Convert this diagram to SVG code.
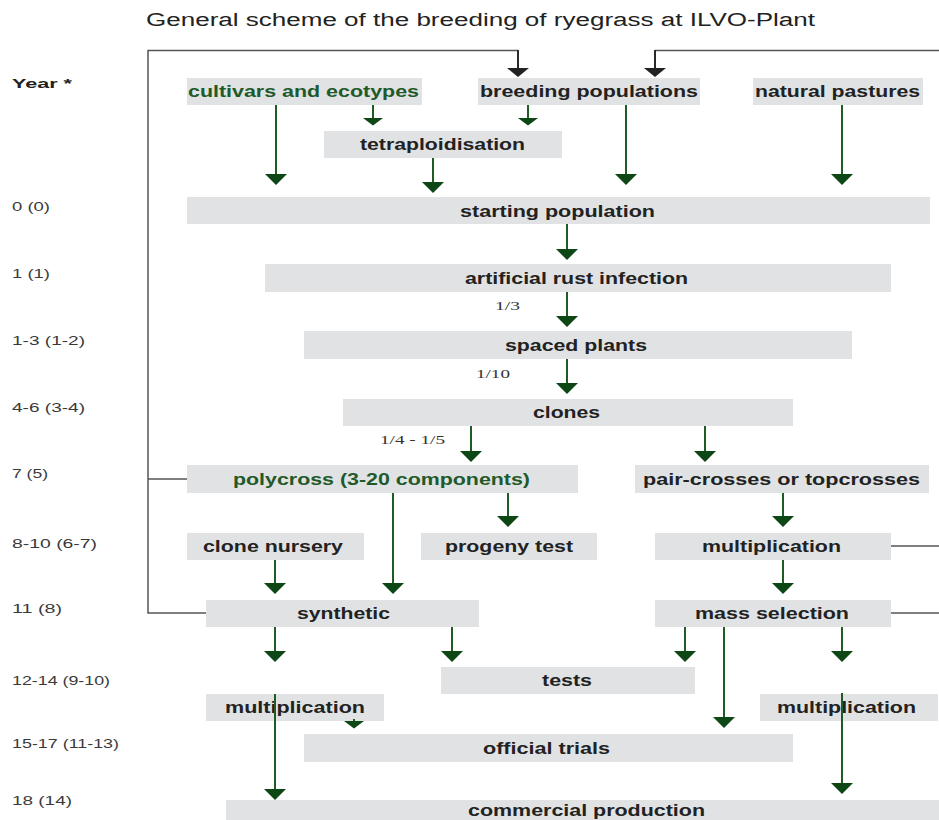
<svg xmlns="http://www.w3.org/2000/svg" width="939" height="820" viewBox="0 0 939 820">
<style>
.box{fill:#e1e2e4}
.lbl{font-family:"Liberation Sans",Arial,sans-serif;font-weight:bold;font-size:16px;fill:#222;text-anchor:middle}
.grn{fill:#1f5a2a}
.yr{font-family:"Liberation Sans",Arial,sans-serif;font-size:13px;fill:#3a3a3a}
.frac{font-family:"Liberation Serif","Times New Roman",serif;font-size:13px;fill:#333}
.title{font-family:"Liberation Sans",Arial,sans-serif;font-size:18px;fill:#222}
.ga{fill:none;stroke:#1f5c24;stroke-width:2;marker-end:url(#hg)}
.gs{fill:none;stroke:#1f5c24;stroke-width:2;marker-end:url(#hs)}
.ba{fill:none;stroke:#2a2a2a;stroke-width:2;marker-end:url(#hb)}
.fb{fill:none;stroke:#555;stroke-width:1.5}
</style>
<defs>
<marker id="hg" markerUnits="userSpaceOnUse" orient="auto" refX="0" refY="0" markerWidth="12" markerHeight="24" viewBox="0 -12 12 24" overflow="visible"><path d="M0,-11 L11,0 L0,11 Z" fill="#0d4715"/></marker>
<marker id="hs" markerUnits="userSpaceOnUse" orient="auto" refX="0" refY="0" markerWidth="9" markerHeight="22" viewBox="0 -11 9 22" overflow="visible"><path d="M0,-10 L7.5,0 L0,10 Z" fill="#0d4715"/></marker>
<marker id="hb" markerUnits="userSpaceOnUse" orient="auto" refX="0" refY="0" markerWidth="10" markerHeight="24" viewBox="0 -12 10 24" overflow="visible"><path d="M0,-11 L9,0 L0,11 Z" fill="#222"/></marker>
</defs>
<rect width="939" height="820" fill="#fff"/>
<text class="title" x="146" y="26" textLength="669" lengthAdjust="spacingAndGlyphs">General scheme of the breeding of ryegrass at ILVO-Plant</text>

<g id="years">
<text class="yr" x="12" y="88" textLength="60" lengthAdjust="spacingAndGlyphs" style="font-weight:bold;fill:#222">Year *</text>
<text class="yr" x="12" y="211" textLength="38" lengthAdjust="spacingAndGlyphs">0 (0)</text>
<text class="yr" x="12" y="278" textLength="38" lengthAdjust="spacingAndGlyphs">1 (1)</text>
<text class="yr" x="12" y="345" textLength="73" lengthAdjust="spacingAndGlyphs">1-3 (1-2)</text>
<text class="yr" x="12" y="412" textLength="73" lengthAdjust="spacingAndGlyphs">4-6 (3-4)</text>
<text class="yr" x="12" y="478" textLength="36" lengthAdjust="spacingAndGlyphs">7 (5)</text>
<text class="yr" x="12" y="548" textLength="85" lengthAdjust="spacingAndGlyphs">8-10 (6-7)</text>
<text class="yr" x="12" y="613" textLength="50" lengthAdjust="spacingAndGlyphs">11 (8)</text>
<text class="yr" x="12" y="685" textLength="98" lengthAdjust="spacingAndGlyphs">12-14 (9-10)</text>
<text class="yr" x="12" y="748" textLength="107" lengthAdjust="spacingAndGlyphs">15-17 (11-13)</text>
<text class="yr" x="12" y="805" textLength="60" lengthAdjust="spacingAndGlyphs">18 (14)</text>
</g>

<g id="feedback">
<path class="fb" d="M206,613 H148 V50.5 H518"/>
<path class="fb" d="M187,479 H148"/>
<path class="fb" d="M939,50.5 H655"/>
<path class="fb" d="M890,546 H939"/>
<path class="fb" d="M890,613 H939"/>
</g>

<g id="n-cultivars"><rect class="box" x="187" y="78" width="235" height="27"/><text class="lbl grn" x="303.5" y="97" textLength="231" lengthAdjust="spacingAndGlyphs">cultivars and ecotypes</text></g>
<g id="n-breeding"><rect class="box" x="478" y="78" width="222" height="27"/><text class="lbl" x="589" y="97" textLength="218" lengthAdjust="spacingAndGlyphs">breeding populations</text></g>
<g id="n-natural"><rect class="box" x="753" y="78" width="170" height="27"/><text class="lbl" x="837.5" y="97" textLength="165" lengthAdjust="spacingAndGlyphs">natural pastures</text></g>
<g id="n-tetra"><rect class="box" x="324" y="131" width="238" height="27"/><text class="lbl" x="442.5" y="150" textLength="165" lengthAdjust="spacingAndGlyphs">tetraploidisation</text></g>
<g id="n-starting"><rect class="box" x="187" y="197" width="743" height="27"/><text class="lbl" x="557.5" y="217" textLength="195" lengthAdjust="spacingAndGlyphs">starting population</text></g>
<g id="n-rust"><rect class="box" x="265" y="264" width="626" height="28"/><text class="lbl" x="576.5" y="284" textLength="223" lengthAdjust="spacingAndGlyphs">artificial rust infection</text></g>
<g id="n-spaced"><rect class="box" x="304" y="331" width="548" height="28"/><text class="lbl" x="576" y="351" textLength="142" lengthAdjust="spacingAndGlyphs">spaced plants</text></g>
<g id="n-clones"><rect class="box" x="343" y="399" width="450" height="27"/><text class="lbl" x="566.5" y="418" textLength="67" lengthAdjust="spacingAndGlyphs">clones</text></g>
<g id="n-polycross"><rect class="box" x="187" y="465" width="391" height="28"/><text class="lbl grn" x="381.5" y="485" textLength="297" lengthAdjust="spacingAndGlyphs">polycross (3-20 components)</text></g>
<g id="n-pair"><rect class="box" x="635" y="465" width="294" height="28"/><text class="lbl" x="781.5" y="485" textLength="277" lengthAdjust="spacingAndGlyphs">pair-crosses or topcrosses</text></g>
<g id="n-clonenursery"><rect class="box" x="187" y="533" width="177" height="27"/><text class="lbl" x="273" y="552" textLength="140" lengthAdjust="spacingAndGlyphs">clone nursery</text></g>
<g id="n-progeny"><rect class="box" x="421" y="533" width="176" height="27"/><text class="lbl" x="509" y="552" textLength="128" lengthAdjust="spacingAndGlyphs">progeny test</text></g>
<g id="n-mult1"><rect class="box" x="655" y="533" width="236" height="27"/><text class="lbl" x="771.5" y="552" textLength="139" lengthAdjust="spacingAndGlyphs">multiplication</text></g>
<g id="n-synthetic"><rect class="box" x="206" y="600" width="273" height="27"/><text class="lbl" x="343.5" y="619" textLength="93" lengthAdjust="spacingAndGlyphs">synthetic</text></g>
<g id="n-mass"><rect class="box" x="655" y="600" width="236" height="27"/><text class="lbl" x="772" y="619" textLength="154" lengthAdjust="spacingAndGlyphs">mass selection</text></g>
<g id="n-tests"><rect class="box" x="441" y="667" width="254" height="27"/><text class="lbl" x="567" y="686" textLength="50" lengthAdjust="spacingAndGlyphs">tests</text></g>
<g id="n-mult2"><rect class="box" x="206" y="694" width="178" height="27"/><text class="lbl" x="295" y="713" textLength="140" lengthAdjust="spacingAndGlyphs">multiplication</text></g>
<g id="n-mult3"><rect class="box" x="760" y="694" width="178" height="27"/><text class="lbl" x="846.5" y="713" textLength="139" lengthAdjust="spacingAndGlyphs">multiplication</text></g>
<g id="n-official"><rect class="box" x="304" y="734" width="489" height="28"/><text class="lbl" x="546.5" y="754" textLength="127" lengthAdjust="spacingAndGlyphs">official trials</text></g>
<g id="n-commercial"><rect class="box" x="226" y="800" width="713" height="20"/><text class="lbl" x="586.5" y="816" textLength="237" lengthAdjust="spacingAndGlyphs">commercial production</text></g>

<g id="fractions">
<text class="frac" x="495" y="310" textLength="25" lengthAdjust="spacingAndGlyphs">1/3</text>
<text class="frac" x="476" y="378" textLength="34" lengthAdjust="spacingAndGlyphs">1/10</text>
<text class="frac" x="380" y="444" textLength="65" lengthAdjust="spacingAndGlyphs">1/4 - 1/5</text>
</g>

<g id="connectors">
<path class="ba" d="M518,50 V68"/>
<path class="ba" d="M655,50 V68"/>
<path class="ga" d="M276,105 V174"/>
<path class="gs" d="M373,105 V118"/>
<path class="gs" d="M528,105 V118"/>
<path class="ga" d="M433,158 V182"/>
<path class="ga" d="M626,105 V174"/>
<path class="ga" d="M842,105 V174"/>
<path class="ga" d="M567,224 V249"/>
<path class="ga" d="M567,292 V316"/>
<path class="ga" d="M567,359 V383"/>
<path class="ga" d="M471,426 V451"/>
<path class="ga" d="M705,426 V451"/>
<path class="ga" d="M393,493 V583"/>
<path class="ga" d="M508,493 V516"/>
<path class="ga" d="M275,560 V583"/>
<path class="ga" d="M783,493 V516"/>
<path class="ga" d="M783,560 V583"/>
<path class="ga" d="M275,627 V651"/>
<path class="ga" d="M452,627 V651"/>
<path class="ga" d="M685,627 V651"/>
<path class="ga" d="M724,627 V717"/>
<path class="ga" d="M842,627 V651"/>
<path class="ga" d="M275,694 V789"/>
<path class="gs" d="M354,719 V721"/>
<path class="ga" d="M842,693 V783"/>
</g>
</svg>
